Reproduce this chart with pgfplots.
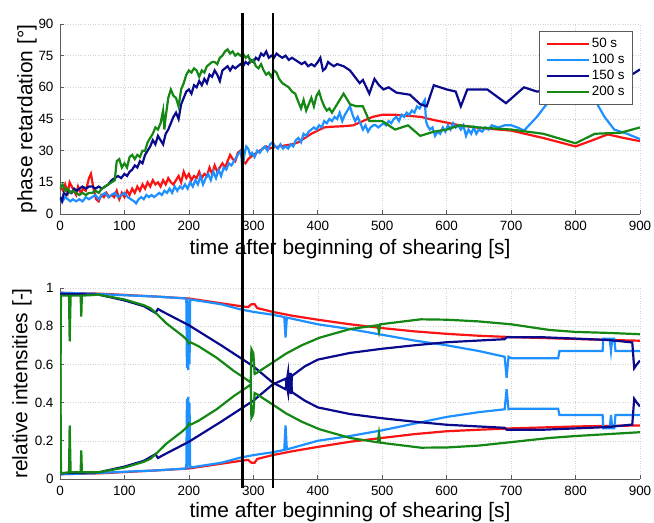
\documentclass[border=0pt]{standalone}
\usepackage{pgfplots}
\pgfplotsset{compat=1.18}
\usepackage{fontspec}
\setmainfont{Liberation Sans}
\definecolor{cred}{RGB}{250,20,20}
\definecolor{clblue}{RGB}{30,144,255}
\definecolor{cnavy}{RGB}{10,10,140}
\definecolor{cgreen}{RGB}{20,135,20}
\definecolor{axgray}{RGB}{90,90,90}
\pgfplotsset{
  myax/.style={
    scale only axis, width=580bp,
    xmin=0, xmax=900, xtick={0,100,...,900},
    axis x line*=bottom, axis y line*=left,
    axis line style={axgray, line width=0.8bp},
    tick style={axgray, line width=0.6bp},
    tick align=inside, major tick length=4bp,
    grid=major, grid style={gray!35, line width=0.5bp, dash pattern=on 1bp off 1.5bp},
    ticklabel style={font=\fontsize{13.5}{15}\selectfont},
    xticklabel style={yshift=-4bp},
    yticklabel style={xshift=-3bp},
    /pgf/number format/assume math mode=true,
    label style={font=\fontsize{21}{25}\selectfont},
    every axis plot/.append style={line width=2.2bp},
    legend cell align=left,
  }
}
\begin{document}
\begin{tikzpicture}
\path[use as bounding box] (0,0) rectangle (654bp,523bp);
% ---------- bottom axis ----------
\begin{axis}[myax, at={(60bp,44bp)}, anchor=south west, height=191bp,
  ymin=0, ymax=1, ytick={0,0.2,...,1},
  yticklabels={0,0.2,0.4,0.6,0.8,1},
  xlabel={time after beginning of shearing [s]},
  xlabel style={at={(axis description cs:0.5,-0.172)}, anchor=center},
  ylabel={relative intensities [-]},
  ylabel style={at={(axis description cs:-0.0655,0.5)}, anchor=center},
]
% red
\addplot[cred] coordinates {(0,0.975)(65,0.97)(150,0.955)(200,0.945)(250,0.92)(280,0.905)(292,0.90)(297,0.915)(302,0.915)(306,0.895)(330,0.875)(360,0.855)(400,0.834)(450,0.81)(500,0.79)(550,0.773)(600,0.76)(650,0.75)(700,0.743)(750,0.738)(800,0.733)(850,0.728)(900,0.724)};
\addplot[cred] coordinates {(0,0.025)(65,0.03)(150,0.045)(200,0.055)(250,0.08)(280,0.095)(292,0.10)(297,0.085)(302,0.085)(306,0.105)(330,0.125)(360,0.145)(400,0.168)(450,0.195)(500,0.215)(550,0.235)(600,0.25)(650,0.258)(700,0.265)(750,0.27)(800,0.275)(850,0.278)(900,0.28)};
% light blue
\addplot[clblue] coordinates {(0,0.975)(50,0.97)(100,0.962)(150,0.955)(196,0.945)(197,0.58)(198,0.94)(199,0.57)(200,0.93)(201,0.6)(202,0.94)(250,0.915)(280,0.888)(300,0.875)(330,0.86)(348,0.848)(350,0.74)(352,0.845)(400,0.81)(450,0.785)(500,0.755)(550,0.725)(600,0.70)(650,0.67)(690,0.64)(693,0.53)(696,0.64)(700,0.632)(740,0.632)(773,0.632)(775,0.67)(842,0.67)(843,0.735)(853,0.735)(855,0.67)(857,0.735)(860,0.735)(862,0.67)(900,0.67)};
\addplot[clblue] coordinates {(0,0.025)(50,0.03)(100,0.038)(150,0.045)(196,0.055)(197,0.42)(198,0.06)(199,0.43)(200,0.07)(201,0.40)(202,0.06)(250,0.085)(280,0.112)(300,0.125)(330,0.14)(348,0.152)(350,0.28)(352,0.155)(400,0.20)(450,0.225)(500,0.255)(550,0.29)(600,0.325)(650,0.35)(690,0.365)(693,0.47)(696,0.365)(700,0.368)(773,0.368)(775,0.335)(842,0.335)(843,0.265)(853,0.265)(855,0.335)(857,0.265)(860,0.265)(862,0.335)(900,0.335)};
% navy
\addplot[cnavy] coordinates {(0,0.97)(60,0.965)(100,0.935)(130,0.905)(148,0.87)(152,0.89)(160,0.875)(200,0.805)(250,0.70)(300,0.59)(330,0.505)(350,0.47)(354,0.56)(356,0.46)(358,0.555)(360,0.455)(380,0.41)(400,0.375)(450,0.34)(500,0.318)(550,0.30)(600,0.284)(650,0.275)(690,0.268)(693,0.258)(750,0.258)(800,0.265)(850,0.272)(888,0.285)(891,0.42)(895,0.40)(900,0.38)};
\addplot[cnavy] coordinates {(0,0.03)(60,0.035)(100,0.065)(130,0.095)(148,0.13)(152,0.11)(160,0.125)(200,0.195)(250,0.30)(300,0.41)(330,0.495)(350,0.525)(354,0.45)(356,0.55)(358,0.445)(360,0.54)(380,0.59)(400,0.625)(450,0.66)(500,0.682)(550,0.70)(600,0.716)(650,0.725)(690,0.732)(693,0.742)(750,0.742)(800,0.735)(850,0.728)(888,0.715)(891,0.58)(895,0.60)(900,0.62)};
% green
\addplot[cgreen] coordinates {(0,0.03)(1.5,0.96)(14,0.96)(15,0.72)(16.5,0.96)(32,0.96)(33,0.85)(34,0.96)(60,0.965)(100,0.94)(130,0.91)(140,0.895)(150,0.865)(165,0.815)(190,0.75)(198,0.725)(200,0.71)(203,0.715)(215,0.695)(243,0.635)(270,0.565)(290,0.52)(296,0.505)(297,0.68)(300,0.66)(302,0.55)(305,0.555)(330,0.61)(350,0.655)(375,0.70)(403,0.74)(450,0.785)(493,0.805)(495,0.77)(497,0.81)(560,0.836)(600,0.834)(650,0.825)(700,0.81)(760,0.78)(800,0.77)(850,0.765)(900,0.758)};
\addplot[cgreen] coordinates {(0,0.96)(1.5,0.03)(14,0.035)(15,0.28)(16.5,0.035)(32,0.035)(33,0.15)(34,0.035)(60,0.035)(100,0.06)(130,0.09)(140,0.105)(150,0.135)(165,0.185)(190,0.25)(198,0.275)(200,0.29)(203,0.285)(215,0.305)(243,0.365)(270,0.435)(290,0.48)(296,0.495)(297,0.32)(300,0.34)(302,0.45)(305,0.445)(330,0.39)(350,0.345)(375,0.30)(403,0.26)(450,0.215)(493,0.192)(495,0.24)(497,0.19)(560,0.164)(600,0.165)(650,0.175)(700,0.193)(760,0.215)(800,0.225)(850,0.235)(900,0.245)};
\end{axis}
% ---------- top axis ----------
\begin{axis}[myax, at={(60bp,309bp)}, anchor=south west, height=190bp,
  ymin=0, ymax=90, ytick={0,15,...,90},
  xlabel={time after beginning of shearing [s]},
  xlabel style={at={(axis description cs:0.5,-0.1847)}, anchor=center},
  ylabel={phase retardation [°]},
  ylabel style={at={(axis description cs:-0.0569,0.5)}, anchor=center},
  legend style={at={(axis description cs:0.988,0.963)}, anchor=north east,
    draw=axgray, line width=0.7bp, fill=white,
    font=\fontsize{13.5}{15}\selectfont, inner xsep=6bp, inner ysep=5bp,
    row sep=1.2bp},
  legend image code/.code={\draw[#1, line width=2.5bp] (0bp,0bp) -- (42bp,0bp);},
]
\addplot[cred] coordinates {(0,13)(5,11)(8,14)(12,10)(15,15)(20,12)(25,9)(28,13)(32,10)(36,12)(40,11)(45,17)(48,19)(52,12)(56,7)(60,6)(64,9)(68,8)(72,10)(76,8)(80,9)(84,8)(88,11)(92,7)(96,10)(100,8)(104,11)(108,9)(112,12)(116,10)(120,13)(124,11)(128,14)(132,12)(136,15)(140,13)(144,16)(148,14)(152,15)(156,13)(160,16)(164,14)(168,17)(172,15)(176,14)(180,16)(184,18)(188,15)(192,20)(196,17)(200,19)(204,16)(208,18)(212,17)(216,20)(220,17)(224,19)(228,18)(232,22)(236,19)(240,23)(244,20)(248,22)(252,24)(256,22)(260,25)(264,28)(268,26)(272,25)(276,29)(280,30)(284,25)(288,24)(292,26)(296,27)(300,28)(305,29)(310,30)(315,31)(320,32)(325,31)(330,31.5)(340,32)(350,32.5)(360,33)(370,34)(380,36)(390,38)(400,39.5)(410,41)(420,41.3)(440,41.6)(455,42)(470,44)(485,46)(500,47)(520,47)(560,46)(580,44.5)(600,43.3)(620,42)(650,40.8)(700,39.5)(750,36)(800,32)(825,34.8)(850,37.7)(875,36)(900,34.5)};
\addlegendentry{50 s}
\addplot[clblue] coordinates {(0,7)(4,6)(8,8)(12,7)(16,6)(20,7)(25,6)(30,7)(35,6)(40,8)(45,7)(50,8)(55,9)(60,7)(65,9)(70,10)(75,8)(80,9)(85,10)(90,8)(95,9)(100,10)(105,8)(110,7)(115,6)(118,5)(122,7)(126,8)(130,7)(134,9)(138,8)(142,9)(146,8)(150,9)(154,10)(158,9)(162,11)(166,10)(170,12)(174,10)(178,13)(182,11)(186,13)(190,12)(194,14)(198,12)(202,15)(206,13)(210,16)(214,14)(218,18)(222,14)(226,17)(230,19)(234,16)(238,20)(242,17)(246,21)(250,18)(254,22)(258,21)(262,24)(266,23)(270,25)(274,27)(278,29)(281,30)(283,21)(286,28)(289,32)(292,31)(295,28)(298,29)(302,27)(306,30)(310,29)(314,31)(318,32)(322,30)(326,33)(330,34)(334,32)(338,31)(342,33)(346,31)(350,32)(354,31)(358,33)(362,32)(366,35)(370,36)(374,34)(378,38)(382,37)(386,39)(390,40)(394,41)(398,40)(402,42)(406,41)(410,44)(414,43)(418,45)(422,44)(426,46)(430,45)(434,48)(438,44)(442,47)(446,49)(450,51)(454,47)(458,44)(462,46)(466,43)(470,40)(474,42)(478,39)(482,41)(486,42)(490,42)(494,41)(498,42)(502,43)(506,42)(510,44)(514,43)(518,45)(522,46)(526,44)(530,47)(534,46)(538,48)(542,47)(546,49)(550,48)(554,51)(558,50)(562,52)(566,54)(568,44)(570,42)(574,40)(578,41)(582,37)(586,39)(590,38)(594,41)(598,39)(602,42)(606,40)(610,43)(614,41)(618,42)(622,40)(626,42)(630,37)(634,40)(638,38)(642,41)(646,38)(650,40)(655,39)(660,41)(665,40)(670,42)(680,41)(690,42)(700,42)(710,41)(720,39.5)(740,46)(760,54)(780,60)(800,64)(815,60)(830,54)(845,46)(860,40)(880,38)(900,35.5)};
\addlegendentry{100 s}
\addplot[cnavy] coordinates {(0,8)(3,6)(6,10)(10,9)(14,11)(18,10)(22,12)(26,11)(30,12)(35,13)(40,12)(45,13)(50,13)(55,12)(60,13)(65,12)(70,13)(75,14)(80,16)(85,17)(90,18)(95,17)(100,19)(104,18)(108,20)(112,21)(116,23)(120,22)(124,25)(128,24)(132,28)(136,30)(140,32)(144,35)(148,33)(152,37)(156,35)(160,33)(164,38)(168,40)(172,43)(176,46)(180,48)(184,45)(188,52)(192,55)(196,58)(200,59)(204,57)(208,61)(212,60)(216,63)(220,61)(224,64)(228,62)(232,66)(236,65)(240,68)(244,66)(248,63)(252,68)(256,69)(260,70)(264,68)(268,70)(272,69)(276,70)(280,71)(284,70)(288,72)(292,71)(296,73)(300,72)(304,74)(308,73)(312,76)(316,75)(320,77)(324,74)(328,75)(332,74)(336,76)(340,75)(345,74)(350,75)(355,73)(360,74)(365,73)(370,72)(375,71)(380,72)(385,70)(390,71)(395,70)(400,72)(404,74)(408,68)(412,69)(416,72)(420,71)(425,70)(430,71)(440,70)(450,68)(455,66)(465,62)(470,63.5)(480,57)(488,64)(495,61)(502,59)(510,60)(522,57.5)(543,56.5)(559,52)(569,51)(580,61)(590,60)(600,59)(614,58)(622,51)(632,59)(645,59)(663,59)(692,52.5)(720,60)(740,58)(800,60)(890,66.5)(900,68.5)};
\addlegendentry{150 s}
\addplot[cgreen] coordinates {(0,12)(4,14)(8,11)(12,12)(16,10)(20,11)(25,10)(30,9)(35,10)(40,9)(45,10)(50,10)(55,11)(60,10)(65,12)(70,13)(75,14)(80,15)(85,16)(88,25)(92,26)(96,22)(100,24)(104,22)(108,27)(112,28)(116,26)(120,28)(124,27)(128,30)(132,30)(136,34)(140,36)(144,38)(148,41)(152,40)(156,43)(160,49)(162,40)(164,46)(168,55)(172,59)(176,56)(180,55)(184,51)(188,59)(192,62)(196,66)(200,68)(204,67)(208,69)(212,68)(216,65)(220,68)(224,67)(228,70)(232,71)(236,72)(240,72)(244,71)(248,74)(252,75)(256,77)(260,78)(264,76)(268,77)(272,75)(276,76)(280,75)(284,76)(288,74)(292,75)(296,72)(300,73)(304,70)(308,69)(312,71)(316,68)(320,66)(324,67)(328,65)(332,68)(336,67)(340,64)(345,62)(350,61)(355,60)(360,58)(365,57)(370,53)(374,50)(378,54)(382,49)(386,52)(390,55)(394,51)(398,56)(402,58)(406,54)(410,51)(414,49)(418,50)(422,48)(430,52)(440,57)(450,52)(460,51)(470,51)(480,44)(500,44)(520,40)(540,42)(559,37)(580,39)(600,40)(620,42)(650,41)(700,40)(750,38)(800,33.5)(830,38)(870,38.5)(900,41)};
\addlegendentry{200 s}
\coordinate (LA1) at (axis cs:283,95.2);
\coordinate (LA2) at (axis cs:283,-129.8);
\coordinate (LB1) at (axis cs:330.5,95.2);
\coordinate (LB2) at (axis cs:330.5,-129.8);
\end{axis}
\draw[black, line width=2.6bp] (LA1) -- (LA2);
\draw[black, line width=2.6bp] (LB1) -- (LB2);
\end{tikzpicture}
\end{document}
